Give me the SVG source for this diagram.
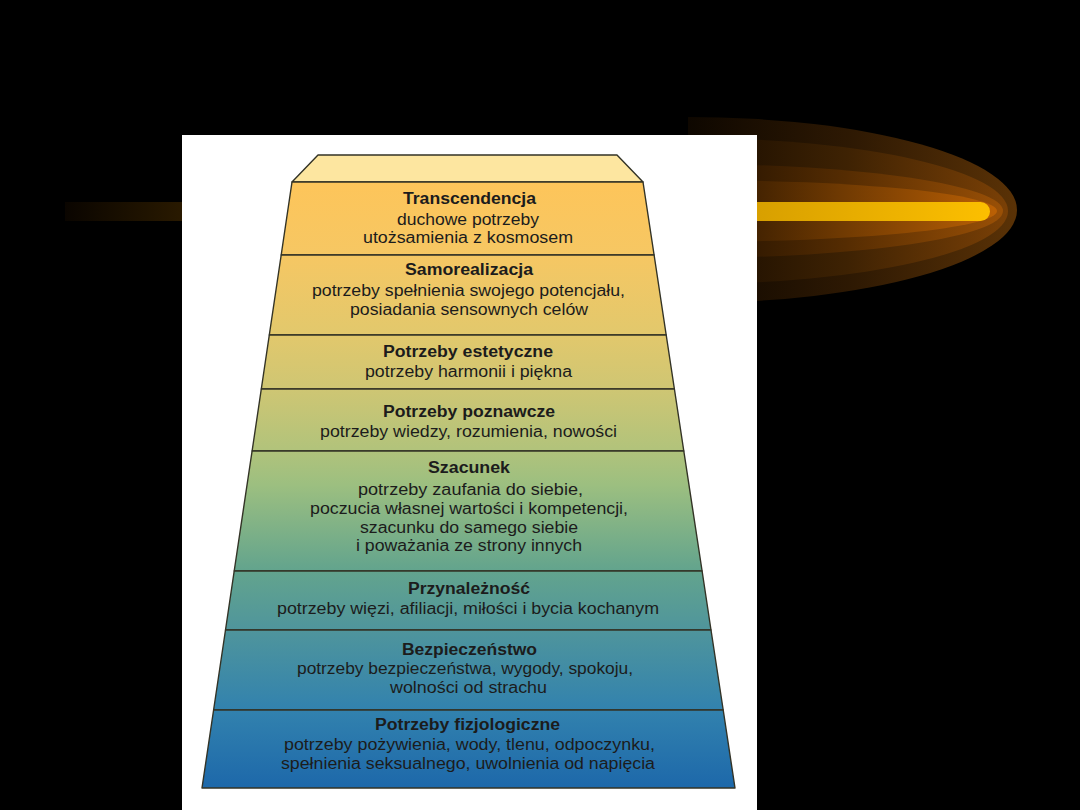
<svg xmlns="http://www.w3.org/2000/svg" width="1080" height="810" viewBox="0 0 1080 810">
<defs>
<style>
.t{font-family:"Liberation Sans",Arial,sans-serif;font-size:16px;fill:#1c1c1c}
.b{font-weight:bold;font-size:16px}
.layer{stroke:#333326;stroke-width:1.4;stroke-linejoin:round}
</style>
<linearGradient id="pg" gradientUnits="userSpaceOnUse" x1="0" y1="182" x2="0" y2="788">
<stop offset="0" stop-color="#fdc55a"/>
<stop offset="0.12" stop-color="#f6c763"/>
<stop offset="0.25" stop-color="#e2c86c"/>
<stop offset="0.34" stop-color="#cfc673"/>
<stop offset="0.44" stop-color="#b2c37b"/>
<stop offset="0.50" stop-color="#9cbf80"/>
<stop offset="0.64" stop-color="#63a48d"/>
<stop offset="0.74" stop-color="#4f959c"/>
<stop offset="0.87" stop-color="#3282ae"/>
<stop offset="1" stop-color="#1d68aa"/>
</linearGradient>
<linearGradient id="g1" gradientUnits="userSpaceOnUse" x1="688" y1="0" x2="1017" y2="0">
<stop offset="0" stop-color="#0e0700"/><stop offset="0.5" stop-color="#2e1903"/><stop offset="1" stop-color="#5a3206"/>
</linearGradient>
<linearGradient id="g2" gradientUnits="userSpaceOnUse" x1="688" y1="0" x2="1008" y2="0">
<stop offset="0" stop-color="#160b00"/><stop offset="0.5" stop-color="#3e2203"/><stop offset="1" stop-color="#7a4006"/>
</linearGradient>
<linearGradient id="g3" gradientUnits="userSpaceOnUse" x1="688" y1="0" x2="1003" y2="0">
<stop offset="0" stop-color="#1c0e00"/><stop offset="0.5" stop-color="#552c02"/><stop offset="1" stop-color="#9a5006"/>
</linearGradient>
<linearGradient id="g4" gradientUnits="userSpaceOnUse" x1="688" y1="0" x2="997" y2="0">
<stop offset="0" stop-color="#221100"/><stop offset="0.5" stop-color="#703a02"/><stop offset="1" stop-color="#bb6004"/>
</linearGradient>
<linearGradient id="bar" gradientUnits="userSpaceOnUse" x1="65" y1="0" x2="990" y2="0">
<stop offset="0" stop-color="#0a0500"/>
<stop offset="0.13" stop-color="#2a1a00"/>
<stop offset="0.75" stop-color="#d8a000"/>
<stop offset="1" stop-color="#fcbf00"/>
</linearGradient>
<clipPath id="cc"><rect x="688" y="100" width="392" height="220"/></clipPath>
</defs>
<rect x="0" y="0" width="1080" height="810" fill="#000"/>
<g id="comet" clip-path="url(#cc)">
<ellipse cx="688" cy="210" rx="329" ry="93" fill="url(#g1)"/>
<ellipse cx="688" cy="211" rx="320" ry="73" fill="url(#g2)"/>
<ellipse cx="688" cy="211" rx="315" ry="47" fill="url(#g3)"/>
<ellipse cx="688" cy="211" rx="309" ry="31" fill="url(#g4)"/>
</g>
<path id="bar-line" d="M65,202 H980.5 A9.5,9.5 0 0 1 980.5,221 H65 Z" fill="url(#bar)"/>
<rect id="panel" x="182" y="135" width="575" height="675" fill="#fff"/>
<g id="cap"><polygon class="layer" points="318,155 617,155 643,182 292,182" fill="#fde6a0"/></g>
<g id="transcendencja">
<polygon class="layer" points="292,182 643,182 654.1,255 281.2,255" fill="url(#pg)"/>
<text class="t b" x="403" y="204" textLength="133" lengthAdjust="spacingAndGlyphs">Transcendencja</text>
<text class="t" x="397" y="225" textLength="142" lengthAdjust="spacingAndGlyphs">duchowe potrzeby</text>
<text class="t" x="363" y="243" textLength="210" lengthAdjust="spacingAndGlyphs">utożsamienia z kosmosem</text>
</g>
<g id="samorealizacja">
<polygon class="layer" points="281.2,255 654.1,255 666.2,335 269.3,335" fill="url(#pg)"/>
<text class="t b" x="405" y="275" textLength="128" lengthAdjust="spacingAndGlyphs">Samorealizacja</text>
<text class="t" x="312" y="296" textLength="313" lengthAdjust="spacingAndGlyphs">potrzeby spełnienia swojego potencjału,</text>
<text class="t" x="350" y="315" textLength="238" lengthAdjust="spacingAndGlyphs">posiadania sensownych celów</text>
</g>
<g id="estetyczne">
<polygon class="layer" points="269.3,335 666.2,335 674.4,389 261.3,389" fill="url(#pg)"/>
<text class="t b" x="383" y="357" textLength="170" lengthAdjust="spacingAndGlyphs">Potrzeby estetyczne</text>
<text class="t" x="365" y="377" textLength="207" lengthAdjust="spacingAndGlyphs">potrzeby harmonii i piękna</text>
</g>
<g id="poznawcze">
<polygon class="layer" points="261.3,389 674.4,389 683.8,451 252.1,451" fill="url(#pg)"/>
<text class="t b" x="383" y="417" textLength="172" lengthAdjust="spacingAndGlyphs">Potrzeby poznawcze</text>
<text class="t" x="320" y="437" textLength="297" lengthAdjust="spacingAndGlyphs">potrzeby wiedzy, rozumienia, nowości</text>
</g>
<g id="szacunek">
<polygon class="layer" points="252.1,451 683.8,451 702.1,571 234.2,571" fill="url(#pg)"/>
<text class="t b" x="428" y="473" textLength="82" lengthAdjust="spacingAndGlyphs">Szacunek</text>
<text class="t" x="358" y="495" textLength="225" lengthAdjust="spacingAndGlyphs">potrzeby zaufania do siebie,</text>
<text class="t" x="310" y="514" textLength="318" lengthAdjust="spacingAndGlyphs">poczucia własnej wartości i kompetencji,</text>
<text class="t" x="360" y="533" textLength="218" lengthAdjust="spacingAndGlyphs">szacunku do samego siebie</text>
<text class="t" x="356" y="551" textLength="226" lengthAdjust="spacingAndGlyphs">i poważania ze strony innych</text>
</g>
<g id="przynaleznosc">
<polygon class="layer" points="234.2,571 702.1,571 711,630 225.5,630" fill="url(#pg)"/>
<text class="t b" x="408" y="594" textLength="122" lengthAdjust="spacingAndGlyphs">Przynależność</text>
<text class="t" x="277" y="614" textLength="382" lengthAdjust="spacingAndGlyphs">potrzeby więzi, afiliacji, miłości i bycia kochanym</text>
</g>
<g id="bezpieczenstwo">
<polygon class="layer" points="225.5,630 711,630 723.2,710 213.6,710" fill="url(#pg)"/>
<text class="t b" x="402" y="655" textLength="135" lengthAdjust="spacingAndGlyphs">Bezpieczeństwo</text>
<text class="t" x="297" y="674" textLength="336" lengthAdjust="spacingAndGlyphs">potrzeby bezpieczeństwa, wygody, spokoju,</text>
<text class="t" x="390" y="693" textLength="157" lengthAdjust="spacingAndGlyphs">wolności od strachu</text>
</g>
<g id="fizjologiczne">
<polygon class="layer" points="213.6,710 723.2,710 735,788 202,788" fill="url(#pg)"/>
<text class="t b" x="375" y="730" textLength="185" lengthAdjust="spacingAndGlyphs">Potrzeby fizjologiczne</text>
<text class="t" x="284" y="750" textLength="371" lengthAdjust="spacingAndGlyphs">potrzeby pożywienia, wody, tlenu, odpoczynku,</text>
<text class="t" x="281" y="769" textLength="374" lengthAdjust="spacingAndGlyphs">spełnienia seksualnego, uwolnienia od napięcia</text>
</g>
<g id="connectors"/>
</svg>
